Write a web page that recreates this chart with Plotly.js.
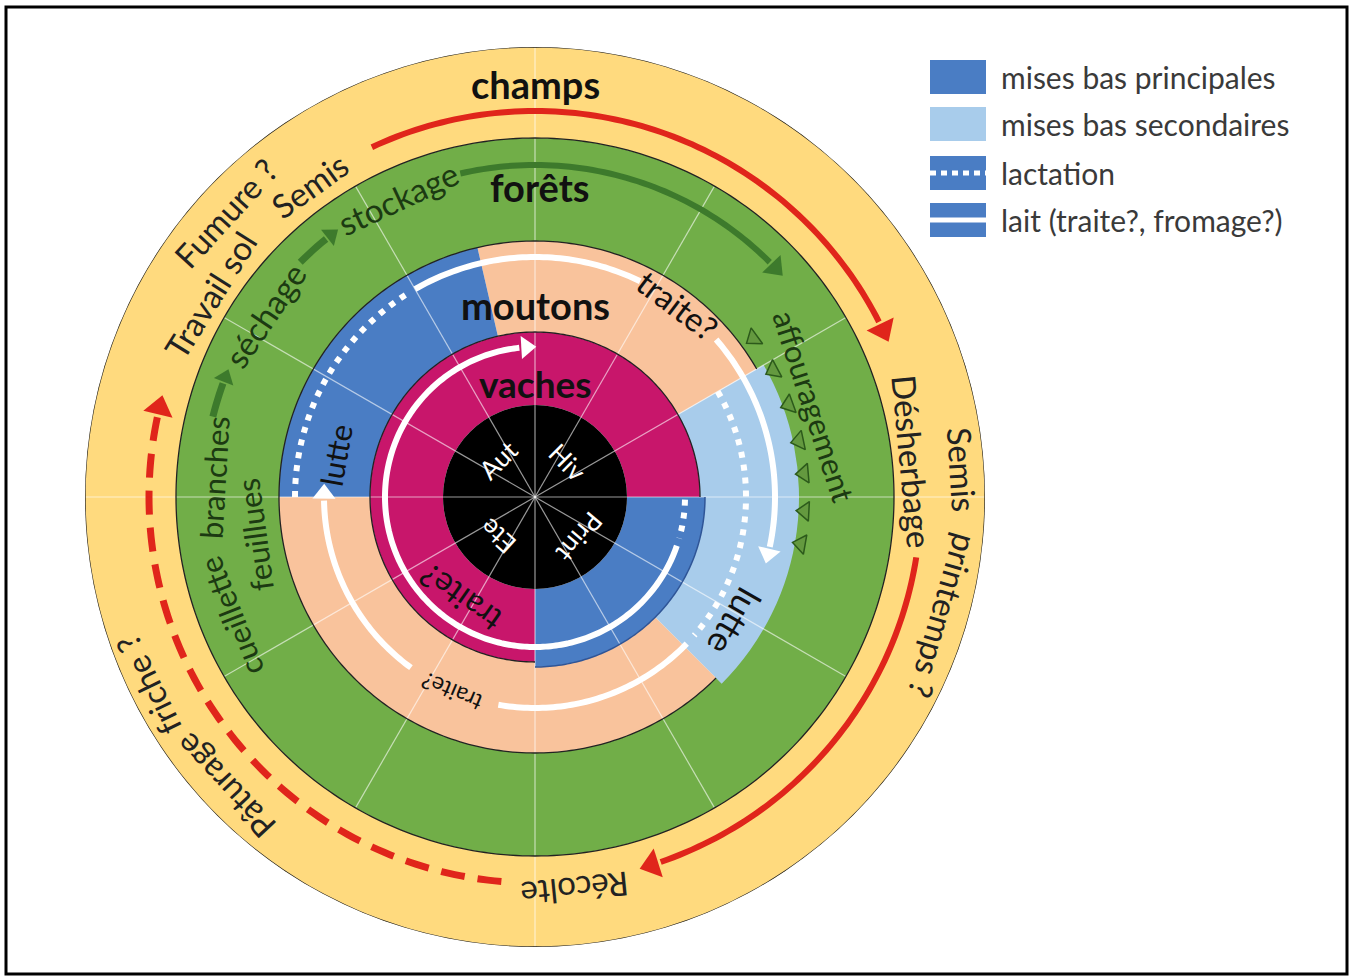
<!DOCTYPE html>
<html><head><meta charset="utf-8">
<script src="https://cdn.plot.ly/plotly-3.0.1.min.js"></script>
<style>html,body{margin:0;padding:0;background:#fff;}#chart{width:1353px;height:976px;}</style>
</head><body><div id="chart"></div>
<script>
// ================= DATA =================
// angles in degrees, 0 = top, clockwise (12 sectors of 30° = months)
const seasons = ['Hiv', 'Print', 'Ete', 'Aut'];
const seasonStart = [0, 90, 180, 270];

// ring segments
const segRing  = ['champs', 'forêts', 'moutons', 'moutons', 'moutons', 'moutons', 'vaches', 'vaches', 'vaches', 'saisons'];
const segKind  = ['champs', 'forêts', 'moutons', 'mises bas secondaires', 'moutons', 'mises bas principales', 'vaches', 'mises bas principales', 'vaches', 'saisons'];
const segStart = [0, 0, -13, 60, 135, 270, 0, 90, 180, 0];
const segEnd   = [360, 360, 60, 135, 270, 347, 90, 180, 360, 360];

// activity arcs (end > start, clockwise)
const arcRing  = ['champs', 'champs', 'champs', 'forêts', 'forêts', 'forêts', 'moutons1', 'moutons1', 'moutons1', 'moutons2', 'moutons2', 'moutons2', 'vaches', 'vaches'];
const arcKind  = ['champs', 'champs', 'friche', 'forêts', 'forêtsS', 'forêtsS', 'lactation', 'lait', 'lait', 'lactation', 'lait', 'lait', 'lactation', 'lait'];
const arcStart = [-25, 99, 185, -13, 284, 315, 270, 330, 49, 60, 134, 216, 91, 109];
const arcEnd   = [63, 161, 282, 45, 290, 321, 328, 386, 102, 131, 190, 269, 106, 354];
const arcArrow = [1, 1, 1, 1, 1, 1, 0, 0, 1, 0, 0, 1, 0, 1];

// affouragement (fodder) markers
const fodderTheta = [54, 62, 70, 78, 85, 93, 100];

// legend
const legendLabels = ['mises bas principales', 'mises bas secondaires', 'lactation', 'lait (traite?, fromage?)'];

// ================= LAYOUT / STYLE =================
const W = 1353, H = 976, CX = 535, CY = 497, ROUT = 450;
const ringR = {saisons: [0, 92], vaches: [92, 165], moutons: [165, 256], 'forêts': [256, 359], champs: [359, 450]};
const kindColor = {
  champs: '#FFDA7E', 'forêts': '#71AE48', moutons: '#F9C39C', vaches: '#C8166B', saisons: '#000000',
  'mises bas principales': '#4A7DC4', 'mises bas secondaires': '#A8CCEB'
};
const arcR = {champs: 386, 'forêts': 332, moutons1: 240, moutons2: 211, vaches: 150};
const arcStyle = {
  champs:   {color: '#E0251B', width: 6, dash: 'solid', head: 26},
  friche:   {color: '#E0251B', width: 7, dash: '24px,13px', head: 26},
  'forêts': {color: '#3D7A2C', width: 6, dash: 'solid', head: 22},
  'forêtsS':{color: '#3D7A2C', width: 7, dash: 'solid', head: 18},
  lactation:{color: '#FFFFFF', width: 6, dash: '6px,7px', head: 0},
  lait:     {color: '#FFFFFF', width: 6, dash: 'solid', head: 20}
};
const FONT = 'Lato, "Open Sans", sans-serif';

function range(a, b, step) { const out = []; const n = Math.max(1, Math.ceil(Math.abs(b - a) / step)); for (let i = 0; i <= n; i++) out.push(a + (b - a) * i / n); return out; }
function px2paper(px, py) { return [px / W, 1 - py / H]; }
function pol2paper(r, th) { const t = th * Math.PI / 180; return px2paper(CX + r * Math.sin(t), CY - r * Math.cos(t)); }
function normAng(a) { a = ((a % 360) + 360) % 360; return a > 180 ? a - 360 : a; }

const traces = [];

// ---- ring sectors (barpolar) ----
{
  const theta = [], width = [], base = [], r = [], color = [];
  segRing.forEach((ring, i) => {
    let r0 = ringR[ring][0], r1 = ringR[ring][1];
    const kind = segKind[i];
    if (kind === 'mises bas secondaires') r1 = 264;
    if (ring === 'vaches' && kind === 'mises bas principales') r1 = 170;
    const span = segEnd[i] - segStart[i];
    theta.push(segStart[i] + span / 2); width.push(span); base.push(r0); r.push(r1 - r0);
    color.push(kindColor[kind]);
  });
  traces.push({type: 'barpolar', theta, width, base, r, marker: {color, line: {width: 0}}, hoverinfo: 'skip', showlegend: false});
}

// ---- spokes ----
{
  const r = [], theta = [];
  for (let k = 0; k < 12; k++) {
    const a = k * 30;
    r.push(0, a % 90 === 0 ? ROUT : ringR['forêts'][1], null);
    theta.push(a, a, null);
  }
  traces.push({type: 'scatterpolar', mode: 'lines', r, theta, line: {color: 'rgba(255,255,255,0.6)', width: 1.2}, hoverinfo: 'skip', showlegend: false});
}

// ---- ring outlines ----
{
  const outl = [[ROUT, 0, 360], [ringR['forêts'][1], 0, 360], [ringR['forêts'][0], 135, 420], [ringR.vaches[1], 180, 450]];
  const r = [], theta = [];
  outl.forEach(o => { range(o[1], o[2], 1).forEach(t => { r.push(o[0]); theta.push(t); }); r.push(null); theta.push(null); });
  traces.push({type: 'scatterpolar', mode: 'lines', r, theta, line: {color: '#222222', width: 1.3}, hoverinfo: 'skip', showlegend: false});
  const r2 = [], t2 = [];
  range(90, 180, 1).forEach(t => { r2.push(170); t2.push(t); });
  traces.push({type: 'scatterpolar', mode: 'lines', r: r2, theta: t2, line: {color: '#2F5597', width: 1.5}, hoverinfo: 'skip', showlegend: false});
}

// ---- activity arcs ----
const head = {r: [], theta: [], angle: [], color: [], size: []};
arcRing.forEach((ring, i) => {
  const st = arcStyle[arcKind[i]];
  const rr = arcR[ring];
  const th = range(arcStart[i], arcEnd[i], 1);
  traces.push({type: 'scatterpolar', mode: 'lines', r: th.map(() => rr), theta: th,
    line: {color: st.color, width: st.width, dash: st.dash}, hoverinfo: 'skip', showlegend: false});
  if (arcArrow[i]) {
    const off = (st.head * 0.35) / rr * 180 / Math.PI;
    head.r.push(rr); head.theta.push(arcEnd[i] + off); head.angle.push(arcEnd[i] + off + 90);
    head.color.push(st.color); head.size.push(st.head);
  }
});
traces.push({type: 'scatterpolar', mode: 'markers', r: head.r, theta: head.theta,
  marker: {symbol: 'triangle-up', size: head.size, color: head.color, angle: head.angle, opacity: 1, line: {width: 0}},
  hoverinfo: 'skip', showlegend: false});

// ---- affouragement arrows ----
traces.push({type: 'scatterpolar', mode: 'markers', r: fodderTheta.map(() => 270), theta: fodderTheta,
  marker: {symbol: 'triangle-up', size: 17, color: '#64993F', opacity: 1, angle: fodderTheta.map(t => t + 180), line: {color: '#2C5A1B', width: 1.5}},
  hoverinfo: 'skip', showlegend: false});

// ---- labels ----
const labels = [
  // text, r, theta, size, color, bold, angle
  ['champs', 413, 0, 38, '#111', true, 0],
  ['forêts', 310, 1, 38, '#111', true, 0],
  ['moutons', 192, 0, 38, '#111', true, 0],
  ['vaches', 114, 0, 37, '#111', true, 0],
  ['Aut', 53, -45, 26, '#fff', false, -45],
  ['Hiv', 48, 43, 26, '#fff', false, 45],
  ['Print', 60, 132, 26, '#fff', false, 130],
  ['Ete', 54, 223, 26, '#fff', false, 222],
  ['lutte', 204, 282, 31, '#111', false, -80],
  ['lutte', 236, 122, 35, '#111', false, 120],
  ['traite?', 239, 36.7, 33, '#111', false, 37],
  ['traite?', 212, 203, 23, '#111', false, 203],
  ['traite?', 126, 216.6, 33, '#111', false, 215],
  ['stockage', 329, -24.6, 33, '#1C3A12', false, -25],
  ['séchage', 326, -56, 33, '#1C3A12', false, -56],
  ['cueillette', 326, 248.5, 31, '#1C3A12', false, 248.5],
  ['branches', 321, 273.5, 31, '#1C3A12', false, 273.5],
  ['feuillues', 283, 262.3, 31, '#1C3A12', false, 262.3],
  ['affouragement', 293, 72, 31, '#1C3A12', false, 72],
  ['Fumure ?', 420, -47.5, 33, '#222', false, -47.5],
  ['Travail sol', 383, -58.1, 33, '#222', false, -58.1],
  ['Semis', 385, -35.8, 33, '#222', false, -35.8],
  ['Désherbage', 379, 84.7, 33, '#222', false, 84.7],
  ['Semis', 428, 86.3, 33, '#222', false, 86.3],
  ['printemps ?', 426, 106.3, 33, '#222', false, 106.3],
  ['Récolte', 395, 174.2, 33, '#222', false, 174.2],
  ['Pâturage', 424, 227, 33, '#222', false, 227],
  ['friche ?', 430, 244, 33, '#222', false, 244]
];
const annotations = labels.map(l => {
  const p = pol2paper(l[1], l[2]);
  return {xref: 'paper', yref: 'paper', x: p[0], y: p[1], xanchor: 'center', yanchor: 'middle', showarrow: false,
    text: l[5] ? '<b>' + l[0] + '</b>' : l[0], textangle: normAng(l[6]), font: {family: FONT, size: l[3], color: l[4]}};
});

// ---- legend ----
const legRows = [77, 124, 173, 220];
const shapes = [];
const legColors = [kindColor['mises bas principales'], kindColor['mises bas secondaires'], kindColor['mises bas principales'], kindColor['mises bas principales']];
legendLabels.forEach((lab, i) => {
  const y = legRows[i];
  const a = px2paper(930, y - 17), b = px2paper(986, y + 17);
  shapes.push({type: 'rect', xref: 'paper', yref: 'paper', x0: a[0], y0: a[1], x1: b[0], y1: b[1], fillcolor: legColors[i], line: {width: 0}});
  if (i >= 2) {
    const c = px2paper(930, y), d = px2paper(986, y);
    shapes.push({type: 'line', xref: 'paper', yref: 'paper', x0: c[0], y0: c[1], x1: d[0], y1: d[1],
      line: {color: '#fff', width: 5, dash: i === 2 ? '6px,5px' : 'solid'}});
  }
  const t = px2paper(999, y);
  annotations.push({xref: 'paper', yref: 'paper', x: t[0], y: t[1], xanchor: 'left', yanchor: 'middle', showarrow: false,
    text: lab, font: {family: FONT, size: 30, color: '#3A3A3A'}});
});
// frame
{
  const a = px2paper(6, 7), b = px2paper(1347, 974);
  shapes.push({type: 'rect', xref: 'paper', yref: 'paper', x0: a[0], y0: a[1], x1: b[0], y1: b[1], line: {color: '#000', width: 3}, fillcolor: 'rgba(0,0,0,0)'});
}

const layout = {
  width: W, height: H, margin: {l: 0, r: 0, t: 0, b: 0}, paper_bgcolor: '#fff', showlegend: false,
  font: {family: FONT},
  polar: {
    domain: {x: [(CX - ROUT) / W, (CX + ROUT) / W], y: [(H - CY - ROUT) / H, (H - CY + ROUT) / H]},
    bgcolor: 'rgba(0,0,0,0)', bargap: 0, barmode: 'overlay', hole: 0,
    radialaxis: {visible: false, range: [0, ROUT]},
    angularaxis: {visible: false, rotation: 90, direction: 'clockwise'}
  },
  annotations, shapes
};
Plotly.newPlot('chart', traces, layout, {staticPlot: true});
</script></body></html>
